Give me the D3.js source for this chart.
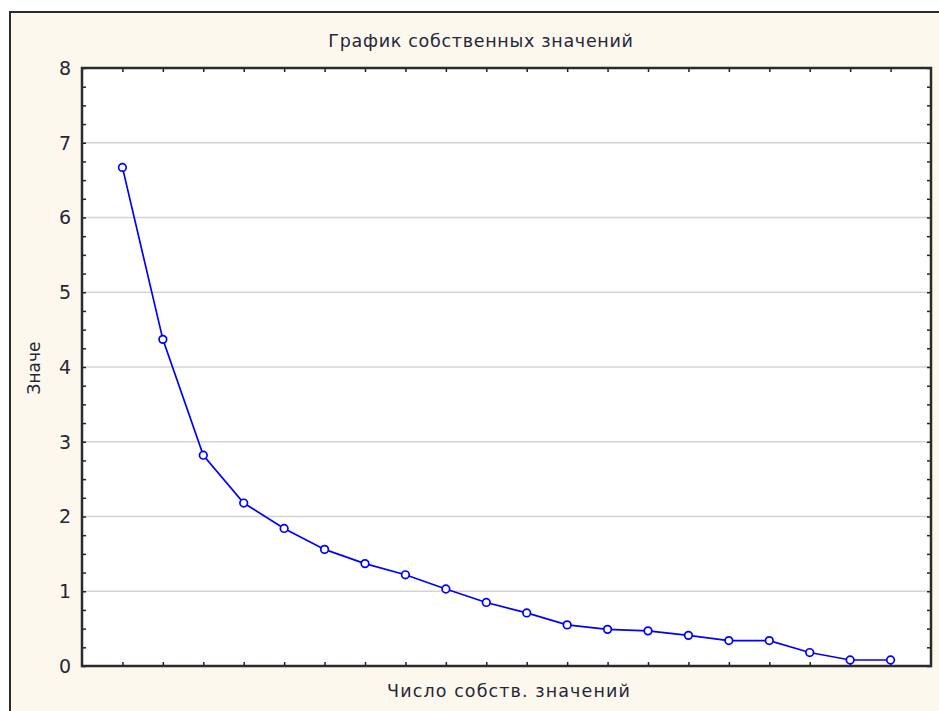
<!DOCTYPE html>
<html>
<head>
<meta charset="utf-8">
<script src="https://cdn.jsdelivr.net/npm/d3@7"></script>
<style>
  html, body { margin: 0; padding: 0; background: #ffffff; }
  svg { display: block; }
  text { font-family: "DejaVu Sans", Verdana, sans-serif; fill: #26263a; }
</style>
</head>
<body>
<svg id="chart" width="939" height="711"></svg>
<script>
// Eigenvalue scree plot data
const componentNumbers = d3.range(1, 21);
const eigenvalues = [6.67, 4.37, 2.82, 2.18, 1.84, 1.56, 1.37, 1.22, 1.03, 0.85,
                     0.71, 0.55, 0.49, 0.47, 0.41, 0.34, 0.34, 0.18, 0.08, 0.08];
const yTickValues = [0, 1, 2, 3, 4, 5, 6, 7, 8];
const titleText = "График собственных значений";
const xLabelText = "Число собств. значений";
const yLabelText = "Значе";

const svg = d3.select("#chart");
const W = 939, H = 711;
const plot = { left: 82, top: 68, right: 931, bottom: 666 };

// outer panel
svg.append("rect")
  .attr("x", 10).attr("y", 12)
  .attr("width", W + 10).attr("height", H + 10)
  .attr("fill", "#fdf8ed")
  .attr("stroke", "#2b2b2b").attr("stroke-width", 2);

const x = d3.scaleLinear().domain([0, 21]).range([plot.left, plot.right]);
const y = d3.scaleLinear().domain([0, 8]).range([plot.bottom, plot.top]);

// plot background
svg.append("rect")
  .attr("x", plot.left).attr("y", plot.top)
  .attr("width", plot.right - plot.left).attr("height", plot.bottom - plot.top)
  .attr("fill", "#ffffff");

// horizontal gridlines
svg.append("g")
  .selectAll("line")
  .data(yTickValues.filter(v => v > 0 && v < 8))
  .join("line")
  .attr("x1", plot.left).attr("x2", plot.right)
  .attr("y1", d => y(d)).attr("y2", d => y(d))
  .attr("stroke", "#d4d4d4").attr("stroke-width", 1.5);

// inward ticks on all four sides
const minorY = d3.range(0, 8.001, 0.25);
const tickLen = 4;
const axisStyle = g => {
  g.select(".domain").remove();
  g.selectAll(".tick line").attr("stroke", "#222").attr("stroke-width", 1.5);
};

svg.append("g")
  .attr("transform", `translate(${plot.left},0)`)
  .call(d3.axisRight(y).tickValues(minorY).tickSize(tickLen).tickFormat(""))
  .call(axisStyle);
svg.append("g")
  .attr("transform", `translate(${plot.right},0)`)
  .call(d3.axisLeft(y).tickValues(minorY).tickSize(tickLen).tickFormat(""))
  .call(axisStyle);
svg.append("g")
  .attr("transform", `translate(0,${plot.bottom})`)
  .call(d3.axisTop(x).tickValues(componentNumbers).tickSize(tickLen).tickFormat(""))
  .call(axisStyle);
svg.append("g")
  .attr("transform", `translate(0,${plot.top})`)
  .call(d3.axisBottom(x).tickValues(componentNumbers).tickSize(tickLen).tickFormat(""))
  .call(axisStyle);

// y tick labels
svg.append("g")
  .selectAll("text")
  .data(yTickValues)
  .join("text")
  .attr("x", 71).attr("y", d => y(d))
  .attr("dy", "0.36em")
  .attr("text-anchor", "end")
  .attr("font-size", 19)
  .text(d => d);

// plot frame
svg.append("rect")
  .attr("x", plot.left).attr("y", plot.top)
  .attr("width", plot.right - plot.left).attr("height", plot.bottom - plot.top)
  .attr("fill", "none")
  .attr("stroke", "#2b2b2b").attr("stroke-width", 2.5);

// eigenvalue line
const line = d3.line()
  .x((d, i) => x(componentNumbers[i]))
  .y(d => y(d));

svg.append("path")
  .datum(eigenvalues)
  .attr("d", line)
  .attr("fill", "none")
  .attr("stroke", "#0000ff")
  .attr("stroke-width", 1.7);

svg.append("g")
  .selectAll("circle")
  .data(eigenvalues)
  .join("circle")
  .attr("cx", (d, i) => x(componentNumbers[i]))
  .attr("cy", d => y(d))
  .attr("r", 3.8)
  .attr("fill", "#ffffff")
  .attr("stroke", "#0000ff")
  .attr("stroke-width", 1.7);

// titles
svg.append("text")
  .attr("x", 481).attr("y", 41)
  .attr("dy", "0.36em")
  .attr("text-anchor", "middle")
  .attr("font-size", 17.5)
  .attr("letter-spacing", 0.7)
  .text(titleText);

svg.append("text")
  .attr("x", 509).attr("y", 691)
  .attr("dy", "0.36em")
  .attr("text-anchor", "middle")
  .attr("font-size", 17.5)
  .attr("letter-spacing", 1.1)
  .text(xLabelText);

svg.append("text")
  .attr("transform", "translate(34,368) rotate(-90)")
  .attr("dy", "0.36em")
  .attr("text-anchor", "middle")
  .attr("font-size", 17)
  .text(yLabelText);
</script>
</body>
</html>
